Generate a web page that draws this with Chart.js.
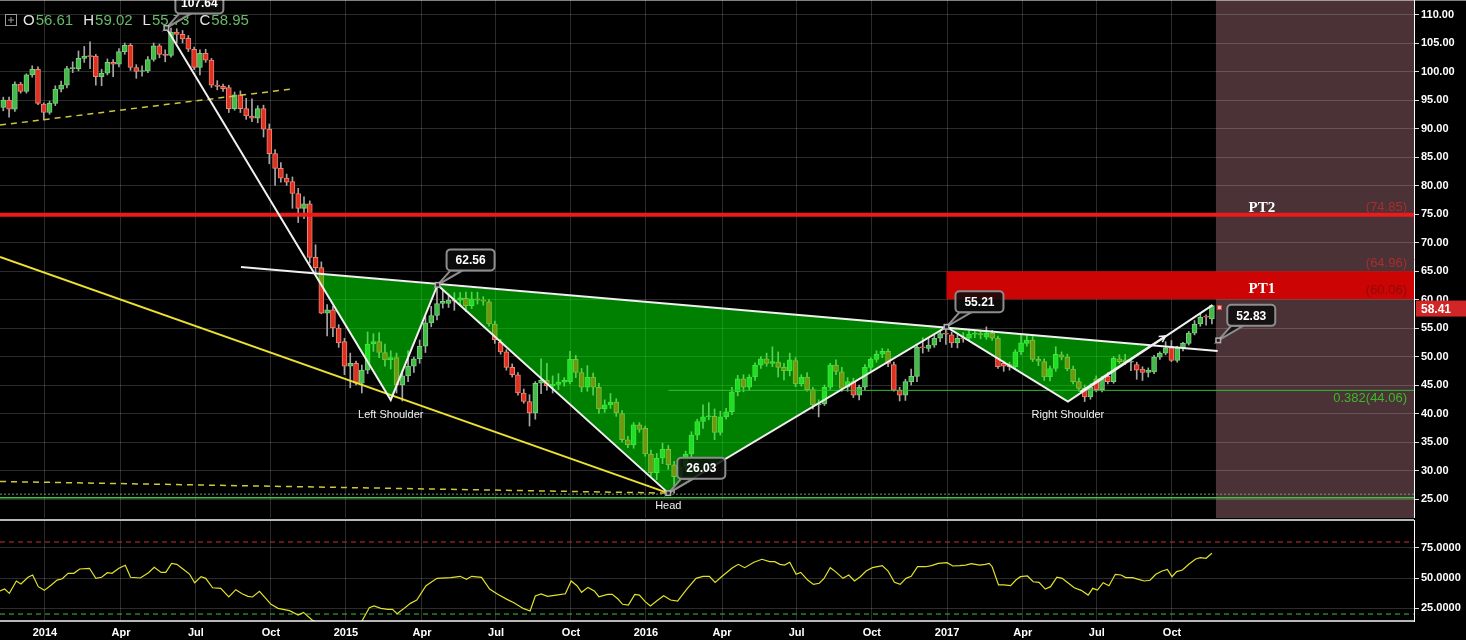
<!DOCTYPE html>
<html>
<head>
<meta charset="utf-8">
<title>Crude oil weekly - inverse head and shoulders</title>
<script src="https://cdn.jsdelivr.net/npm/chart.js@4.4.1/dist/chart.umd.min.js"></script>
<style>
  html, body { margin: 0; padding: 0; background: #000; overflow: hidden; }
  #priceChart { position: absolute; left: 0; top: 0; }
  #rsiChart { position: absolute; left: 0; top: 518px; }
</style>
</head>
<body>
<canvas id="priceChart" width="1466" height="520"></canvas>
<canvas id="rsiChart" width="1466" height="122"></canvas>
<script>
// weekly candles, first one is mid Nov 2013, last one Nov 2017
const opens = [
  93.7, 95.0, 93.4, 97.8, 96.5, 99.4, 100.4, 94.3, 92.8, 94.4,
  96.9, 97.6, 100.5, 100.5, 102.3, 102.7, 102.7, 99.1, 99.7, 101.6,
  101.3, 103.5, 104.6, 100.7, 100.0, 100.1, 102.1, 104.5, 103.0, 102.8,
  106.9, 106.5, 105.8, 103.9, 100.7, 103.2, 102.0, 97.6, 97.4, 97.2,
  93.5, 95.9, 93.5, 92.2, 91.8, 93.5, 89.9, 85.6, 83.0, 81.3,
  80.7, 78.6, 76.0, 76.8, 67.4, 65.6, 57.6, 58.2, 55.0, 52.6,
  48.3, 48.8, 45.3, 47.6, 52.2, 52.6, 50.7, 49.4, 49.8, 45.0,
  46.6, 48.3, 49.6, 51.8, 55.9, 57.2, 59.3, 59.3, 59.9, 59.9,
  60.2, 58.9, 60.1, 59.9, 59.6, 55.7, 52.5, 50.8, 48.1, 46.8,
  43.6, 42.1, 40.1, 45.3, 45.8, 44.9, 45.1, 45.5, 45.6, 49.5,
  47.2, 44.6, 46.4, 44.6, 40.8, 41.5, 42.0, 40.0, 35.4, 34.5,
  38.0, 37.4, 32.9, 29.6, 32.2, 33.7, 31.0, 28.9, 30.6, 32.9,
  36.2, 38.6, 39.4, 39.5, 36.7, 39.4, 40.3, 43.8, 46.1, 44.6,
  46.4, 48.5, 49.6, 48.8, 49.0, 48.1, 47.5, 49.3, 45.2, 46.4,
  44.2, 41.5, 41.7, 44.6, 48.5, 47.3, 44.6, 45.6, 43.2, 44.6,
  48.1, 49.5, 50.4, 50.9, 48.6, 44.1, 43.2, 45.6, 46.5, 51.7,
  51.4, 52.0, 53.2, 54.0, 53.8, 52.4, 53.2, 53.2, 53.9, 54.0,
  53.4, 54.1, 53.2, 48.8, 48.6, 48.2, 50.8, 52.3, 52.9, 49.5,
  49.1, 46.4, 47.9, 50.3, 49.9, 47.8, 45.6, 44.4, 42.9, 46.1,
  44.2, 46.5, 45.6, 49.6, 49.4, 49.0, 48.6, 47.8, 47.2, 47.3,
  49.9, 50.6, 51.5, 49.3, 51.5, 52.3, 54.1, 55.7, 57.0, 56.61
];
const highs = [
  95.5, 95.5, 98.2, 98.1, 99.6, 101.0, 100.8, 94.5, 94.8, 97.5,
  98.3, 100.9, 101.7, 103.6, 104.4, 105.2, 103.0, 100.4, 102.2, 102.1,
  104.0, 105.0, 104.9, 101.2, 101.0, 102.6, 105.0, 104.8, 103.8, 107.6,
  107.5, 107.2, 106.3, 104.3, 103.8, 103.9, 102.3, 98.4, 97.8, 97.6,
  96.4, 96.6, 95.3, 95.2, 94.0, 94.1, 90.8, 86.3, 84.0, 82.0,
  81.5, 79.5, 78.0, 77.3, 69.6, 66.6, 59.1, 58.8, 55.6, 53.2,
  50.6, 49.2, 48.5, 54.3, 54.0, 54.2, 52.2, 51.0, 50.6, 47.5,
  51.0, 49.9, 52.9, 57.0, 58.8, 62.56, 61.7, 61.0, 61.2, 61.2,
  61.3, 61.3, 61.3, 60.5, 60.0, 56.2, 53.0, 51.2, 48.7, 47.2,
  44.3, 43.3, 45.6, 49.6, 48.8, 46.6, 47.0, 46.3, 50.9, 50.2,
  47.9, 48.4, 47.1, 45.3, 42.4, 43.5, 42.6, 40.5, 36.0, 38.4,
  38.4, 37.8, 33.6, 33.0, 34.8, 34.4, 31.6, 31.9, 33.4, 36.8,
  39.0, 41.5, 41.9, 40.8, 40.4, 40.9, 44.6, 46.7, 46.8, 46.8,
  48.9, 50.0, 50.6, 51.7, 50.8, 48.8, 50.6, 49.8, 46.8, 47.2,
  44.6, 42.4, 45.0, 48.8, 49.4, 48.1, 46.3, 46.2, 45.0, 48.6,
  49.8, 51.0, 51.4, 51.3, 49.0, 44.6, 46.0, 47.8, 52.2, 53.3,
  53.2, 53.8, 54.5, 55.21, 54.3, 53.8, 54.2, 54.6, 54.5, 54.4,
  55.2, 54.6, 53.6, 49.2, 49.0, 51.2, 53.8, 53.7, 53.5, 50.0,
  49.6, 48.3, 51.7, 50.8, 50.4, 48.3, 46.2, 45.0, 45.2, 46.6,
  46.5, 47.2, 50.0, 50.3, 50.4, 49.6, 49.0, 48.2, 48.0, 50.2,
  50.8, 52.6, 52.8, 51.8, 52.5, 54.4, 56.3, 57.5, 57.3, 59.02
];
const lows = [
  93.1, 92.0, 93.0, 96.2, 96.2, 99.0, 94.2, 91.5, 92.5, 94.0,
  96.4, 97.1, 99.8, 100.1, 101.6, 100.5, 97.6, 97.5, 99.4, 99.1,
  100.8, 103.0, 100.2, 98.8, 99.2, 99.8, 101.8, 102.4, 101.7, 102.5,
  105.0, 105.0, 103.5, 100.3, 99.4, 101.6, 97.2, 96.8, 96.5, 92.8,
  93.2, 92.8, 91.6, 91.2, 91.0, 88.5, 83.8, 80.0, 80.6, 80.0,
  76.0, 73.5, 74.2, 66.4, 64.5, 57.5, 53.6, 53.5, 51.6, 46.8,
  44.5, 45.0, 43.6, 47.0, 50.9, 49.8, 48.3, 47.8, 43.6, 42.2,
  45.6, 47.2, 48.8, 50.7, 55.2, 56.4, 58.5, 58.6, 58.1, 58.9,
  57.9, 58.4, 59.2, 59.0, 55.3, 52.3, 50.4, 47.6, 46.4, 43.2,
  41.8, 37.8, 39.0, 43.5, 44.1, 43.6, 44.2, 44.8, 45.2, 46.3,
  43.8, 43.9, 43.2, 40.0, 40.2, 40.9, 39.5, 35.0, 34.0, 33.9,
  36.7, 32.5, 29.0, 28.4, 31.2, 30.2, 26.03, 28.0, 30.1, 32.4,
  35.4, 37.4, 38.9, 35.4, 36.2, 39.0, 39.8, 43.1, 43.8, 44.1,
  45.8, 47.9, 48.3, 48.2, 46.4, 45.9, 46.6, 44.7, 44.8, 43.9,
  40.8, 39.4, 41.4, 44.2, 46.8, 43.9, 43.9, 42.8, 42.4, 44.2,
  47.5, 49.0, 49.8, 48.2, 43.9, 42.2, 42.3, 45.0, 45.6, 50.6,
  50.9, 51.6, 52.6, 52.1, 51.6, 51.5, 52.5, 52.8, 53.3, 53.1,
  53.0, 52.8, 47.9, 47.4, 47.6, 47.8, 50.3, 51.8, 49.1, 48.4,
  45.8, 45.7, 47.4, 49.4, 47.5, 45.2, 43.9, 42.1, 42.5, 43.8,
  43.8, 45.2, 45.3, 48.8, 48.6, 47.5, 46.0, 45.8, 46.4, 47.0,
  49.5, 50.3, 49.1, 49.0, 51.0, 52.0, 53.8, 55.3, 55.5, 55.73
];
const closes = [
  95.0, 93.4, 97.8, 96.5, 99.4, 100.4, 94.4, 92.8, 94.4, 96.9,
  97.6, 100.5, 100.7, 102.3, 102.7, 102.6, 99.1, 99.7, 101.6, 101.3,
  103.5, 104.6, 100.7, 100.0, 100.1, 102.1, 104.5, 103.0, 102.8, 106.9,
  106.5, 105.7, 103.9, 100.7, 103.2, 102.0, 97.6, 97.4, 97.0, 93.5,
  95.9, 93.5, 92.2, 91.8, 93.5, 89.9, 85.6, 83.0, 81.3, 80.6,
  78.6, 76.0, 76.8, 67.4, 65.6, 57.6, 58.2, 55.0, 52.4, 48.3,
  48.8, 45.3, 47.6, 52.2, 52.6, 50.7, 49.4, 49.8, 45.0, 46.6,
  48.3, 49.6, 51.8, 55.9, 57.2, 59.3, 59.7, 59.9, 59.7, 60.3,
  58.9, 60.1, 59.9, 59.7, 55.7, 52.9, 50.8, 48.1, 46.8, 43.6,
  42.1, 40.1, 45.3, 45.8, 44.9, 45.1, 45.5, 45.8, 49.5, 47.2,
  44.6, 46.4, 44.6, 40.8, 41.5, 42.0, 40.1, 35.4, 34.5, 38.0,
  37.2, 32.9, 29.6, 32.2, 33.7, 31.0, 28.9, 30.6, 32.9, 36.2,
  38.6, 39.4, 39.6, 36.7, 39.4, 40.3, 43.8, 46.1, 44.6, 46.4,
  48.5, 49.6, 48.8, 49.1, 48.1, 47.5, 49.4, 45.2, 46.4, 44.2,
  41.5, 41.7, 44.6, 48.5, 47.4, 44.4, 45.6, 43.2, 44.6, 48.1,
  49.5, 50.4, 50.9, 48.8, 44.1, 43.2, 45.6, 46.5, 51.6, 51.5,
  52.0, 53.2, 54.0, 53.9, 52.4, 53.2, 53.1, 53.9, 54.0, 53.8,
  54.1, 53.2, 48.2, 48.3, 48.2, 50.8, 52.4, 52.9, 49.5, 49.2,
  46.4, 47.9, 50.4, 49.9, 47.8, 45.6, 44.4, 42.9, 44.7, 44.2,
  46.1, 45.6, 49.7, 49.1, 49.0, 49.1, 47.6, 47.2, 47.6, 49.9,
  50.6, 51.5, 49.3, 51.5, 52.3, 54.1, 55.7, 56.9, 56.9, 58.95
];
const weeks = opens.map((o, i) => i);

// weekly RSI, read at these candle positions (dips under the panel in Dec 2014)
const rsiWeek = [
  -0.57, 0.24, 1.04, 2.26, 3.06, 4.27, 5.08, 6.05, 7.1, 8.3,
  9.3, 10.2, 11.2, 12.2, 13.2, 14.9, 16.0, 17.0, 18.0, 18.8,
  20.0, 21.1, 22.0, 23.7, 25.1, 26.1, 27.3, 28.1, 29.1, 30.0,
  30.9, 32.2, 33.1, 34.2, 35.0, 36.2, 37.6, 39.0, 40.2, 41.3,
  42.3, 43.1, 44.3, 46.3, 47.5, 49.5, 51.0, 51.9, 53.4, 55.0,
  57.5, 60.0, 62.0, 63.3, 64.1, 65.3, 66.5, 67.3, 68.1, 69.1,
  70.4, 71.5, 73.1, 75.0, 77.4, 79.0, 80.1, 81.0, 82.7, 84.1,
  85.5, 87.1, 88.3, 89.9, 91.1, 92.0, 93.0, 94.1, 95.6, 97.2,
  98.2, 99.2, 100.0, 101.1, 102.2, 103.0, 104.5, 105.3, 106.3, 107.1,
  108.1, 109.2, 110.0, 111.0, 111.9, 113.2, 114.2, 115.4, 116.6, 118.2,
  119.8, 121.0, 122.1, 123.1, 124.3, 126.1, 127.1, 128.2, 129.8, 131.2,
  132.5, 133.4, 134.3, 135.1, 136.0, 137.1, 137.9, 139.1, 140.1, 141.1,
  141.9, 143.0, 143.9, 145.2, 146.2, 147.2, 148.2, 149.2, 150.3, 152.0,
  153.0, 154.1, 155.1, 156.1, 157.0, 158.1, 159.5, 160.5, 161.7, 163.2,
  164.2, 165.4, 166.4, 167.4, 168.8, 169.8, 170.5, 171.0, 172.1, 173.0,
  174.2, 175.1, 175.9, 177.1, 178.1, 179.1, 180.2, 181.1, 182.2, 183.1,
  184.2, 185.2, 186.4, 187.6, 188.4, 189.2, 190.2, 191.2, 192.3, 193.3,
  194.1, 195.3, 196.3, 197.3, 198.3, 199.3, 200.4, 201.3, 202.1, 202.9,
  203.9, 205.0, 206.2, 207.0, 208.0, 209.0
];
const rsiValue = [
  39.2, 40.8, 37.2, 47.5, 45.0, 50.6, 52.5, 42.8, 39.7, 44.2,
  48.3, 49.4, 53.9, 53.9, 57.5, 58.1, 49.7, 50.6, 54.4, 53.9,
  58.1, 60.6, 50.6, 50.0, 54.4, 58.9, 54.7, 54.7, 62.2, 61.4,
  58.1, 53.3, 46.1, 51.1, 49.7, 41.9, 41.4, 34.2, 40.3, 36.9,
  34.7, 34.2, 38.9, 28.1, 24.7, 22.8, 19.2, 21.4, 15.0, 11.5,
  9.0, 10.5, 14.0, 25.3, 26.7, 24.7, 23.9, 23.9, 20.3, 23.9,
  28.9, 31.7, 43.6, 49.7, 50.3, 51.4, 48.9, 51.4, 50.6, 40.8,
  36.4, 32.2, 29.4, 24.7, 22.5, 35.0, 36.7, 34.7, 35.8, 36.9,
  47.5, 43.6, 38.1, 42.2, 39.2, 34.4, 36.4, 36.4, 32.5, 28.1,
  27.5, 36.4, 35.8, 30.3, 26.7, 31.7, 35.3, 31.7, 30.8, 40.8,
  49.7, 51.4, 51.4, 46.4, 51.4, 58.6, 61.4, 58.6, 63.1, 65.6,
  63.6, 63.6, 61.4, 60.8, 63.1, 53.1, 54.7, 48.3, 44.7, 45.6,
  49.4, 58.6, 55.3, 49.7, 52.5, 47.5, 51.1, 55.8, 58.6, 60.3,
  55.8, 46.4, 44.7, 49.7, 51.4, 59.4, 59.4, 60.3, 62.2, 62.8,
  60.0, 60.3, 60.8, 61.9, 60.8, 61.4, 62.2, 59.4, 44.2, 44.2,
  43.6, 48.3, 51.1, 51.7, 46.9, 46.4, 40.8, 42.8, 50.6, 49.7,
  45.6, 41.9, 39.7, 35.8, 41.4, 40.0, 46.1, 43.6, 53.1, 52.5,
  50.3, 50.3, 48.9, 47.5, 48.1, 53.1, 55.8, 57.2, 51.1, 55.3,
  56.7, 61.4, 65.8, 66.9, 66.4, 70.6
];

// axis ticks, dates given in candle units
const dateTickPos = [7.21, 20.35, 33.31, 46.29, 59.26, 72.4, 85.2, 98.17, 111.14, 124.29, 137.2, 150.2, 163.2, 176.3, 189.1, 202.1];
const dateTickLabels = ["2014", "Apr", "Jul", "Oct", "2015", "Apr", "Jul", "Oct", "2016", "Apr", "Jul", "Oct", "2017", "Apr", "Jul", "Oct"];
const priceTicks = [25, 30, 35, 40, 45, 50, 55, 60, 65, 70, 75, 80, 85, 90, 95, 100, 105, 110];
const rsiTicks = [25, 50, 75];

// hand drawn pattern: 107 top, left shoulder, 62 top, head, 55 top, right shoulder, end of rally
const pivotWeek = [28.2, 67.0, 75.1, 115.0, 163.1, 184.1, 209.1];
const pivotPrice = [107.64, 42.37, 62.56, 26.03, 55.21, 42.1, 59.0];
const neckWeek = [41.1, 210.0];
const neckPrice = [65.7, 50.96];
const breakWeek = [186.2, 201.0];
const breakPrice = [43.77, 53.6];
const supportWeek = [-0.57, 115.0];
const supportPrice = [67.46, 26.03];
const lowDashPrice = [28.07, 26.03];
const topDashWeek = [-0.57, 49.6];
const topDashPrice = [90.6, 96.9];

// levels
const pt2 = 74.85;
const pt1 = [60.06, 64.96];
const fibLevel = 44.06;
const baseLine = 25.2;
const baseDotted = 25.85;
const neckTargetWeek = 210.1;
const neckTarget = 52.83;
const lastPrice = 58.41;
const futureStart = 209.7;
const rsiHigh = 80;
const rsiLow = 20;

// axis ranges
const xMin = -0.57, xMax = 243.95;
const yMin = 21.667, yMax = 112.544;
const rsiMin = 14.2, rsiMax = 98.3;

Chart.defaults.font.family = '"Liberation Sans", Arial, sans-serif';
Chart.defaults.color = '#fff';

const gridCol = 'rgba(255,255,255,0.17)';
const up = i => closes[i] >= opens[i];

function setTicks(values) {
  return scale => { scale.ticks = values.map(v => ({ value: v })); };
}
function fixWidth(w) {
  return scale => { scale.width = w; scale.paddingTop = 0; scale.paddingBottom = 0; };
}
function fixHeight(h) {
  return scale => { scale.height = h; scale.paddingLeft = 0; scale.paddingRight = 0; };
}

function drawLine(ctx, pts, color, width, dash) {
  ctx.beginPath();
  ctx.strokeStyle = color;
  ctx.lineWidth = width;
  ctx.setLineDash(dash || []);
  pts.forEach((p, k) => k ? ctx.lineTo(p[0], p[1]) : ctx.moveTo(p[0], p[1]));
  ctx.stroke();
  ctx.setLineDash([]);
}

function cross(p1, p2, q1, q2) {
  const d = (p2[0] - p1[0]) * (q2[1] - q1[1]) - (p2[1] - p1[1]) * (q2[0] - q1[0]);
  const t = ((q1[0] - p1[0]) * (q2[1] - q1[1]) - (q1[1] - p1[1]) * (q2[0] - q1[0])) / d;
  return [p1[0] + t * (p2[0] - p1[0]), p1[1] + t * (p2[1] - p1[1])];
}

function callout(ctx, ax, ay, text) {
  const w = 48, h = 21, bx = ax + 9, by = ay - 35.5;
  ctx.fillStyle = 'rgba(12,12,12,0.85)';
  ctx.strokeStyle = '#8d8d8d';
  ctx.lineWidth = 2;
  // pointer
  ctx.beginPath();
  ctx.moveTo(ax, ay);
  ctx.lineTo(bx + 4, by + h);
  ctx.lineTo(bx + 16, by + h);
  ctx.closePath();
  ctx.fill();
  ctx.stroke();
  // box
  ctx.beginPath();
  ctx.roundRect(bx, by, w, h, 4);
  ctx.fill();
  ctx.stroke();
  ctx.fillStyle = '#fff';
  ctx.font = 'bold 12px "Liberation Sans"';
  ctx.textAlign = 'center';
  ctx.textBaseline = 'middle';
  ctx.fillText(text, bx + w / 2, by + h / 2 + 1);
  // anchor
  ctx.fillStyle = '#b0b0b0';
  ctx.fillRect(ax - 3, ay - 3, 6, 6);
  ctx.fillStyle = '#222';
  ctx.fillRect(ax - 1.5, ay - 1.5, 3, 3);
}

function drawLegend(ctx) {
  ctx.strokeStyle = '#9a9a9a';
  ctx.lineWidth = 1;
  ctx.strokeRect(5.5, 14.5, 11, 11);
  ctx.beginPath();
  ctx.moveTo(8, 20); ctx.lineTo(14, 20);
  ctx.moveTo(11, 17); ctx.lineTo(11, 23);
  ctx.stroke();
  ctx.font = '15px "Liberation Sans"';
  ctx.textAlign = 'left';
  ctx.textBaseline = 'middle';
  const last = opens.length - 1;
  let lx = 23;
  [['O', opens[last]], ['H', highs[last]], ['L', lows[last]], ['C', closes[last]]].forEach(([k, v]) => {
    ctx.fillStyle = '#e6e6e6';
    ctx.fillText(k, lx, 21);
    lx += ctx.measureText(k).width + 1;
    const s = v.toFixed(2);
    ctx.fillStyle = '#66bb66';
    ctx.fillText(s, lx, 21);
    lx += ctx.measureText(s).width + 10;
  });
}

const priceDecor = {
  id: 'priceDecor',
  beforeDraw(chart) {
    const { ctx, chartArea: a, scales: { x } } = chart;
    ctx.save();
    ctx.fillStyle = '#000';
    ctx.fillRect(0, 0, chart.width, chart.height);
    const sx = x.getPixelForValue(futureStart);
    ctx.fillStyle = '#4a3236';
    ctx.fillRect(sx, a.top, a.right - sx, a.bottom - a.top);
    ctx.restore();
  },
  afterDatasetsDraw(chart) {
    const { ctx, chartArea: a, scales: { x, y } } = chart;
    const pt = (w, p) => [x.getPixelForValue(w), y.getPixelForValue(p)];
    const piv = pivotWeek.map((w, k) => pt(w, pivotPrice[k]));
    const [top107, ls, top62, head, top55, rs, rally] = piv;
    const n0 = pt(neckWeek[0], neckPrice[0]);
    const n1 = pt(neckWeek[1], neckPrice[1]);
    const sx = x.getPixelForValue(futureStart);

    ctx.save();
    ctx.beginPath();
    ctx.rect(a.left, a.top, a.right - a.left, a.bottom - a.top);
    ctx.clip();

    // PT1 zone
    const zx = top55[0];
    const zt = y.getPixelForValue(pt1[1]), zb = y.getPixelForValue(pt1[0]);
    ctx.fillStyle = 'rgb(205,4,4)';
    ctx.fillRect(zx, zt, a.right - zx, zb - zt);

    // green pattern fill
    ctx.fillStyle = 'rgba(0,255,0,0.5)';
    [[cross(top107, ls, n0, n1), ls, top62], [top62, head, top55], [top55, rs, cross(rs, rally, n0, n1)]].forEach(poly => {
      ctx.beginPath();
      poly.forEach((p, k) => k ? ctx.lineTo(p[0], p[1]) : ctx.moveTo(p[0], p[1]));
      ctx.closePath();
      ctx.fill();
    });

    // levels
    const yb = y.getPixelForValue(baseLine);
    drawLine(ctx, [[a.left, yb], [a.right, yb]], 'rgb(60,200,60)', 1.5);
    const yd = y.getPixelForValue(baseDotted);
    drawLine(ctx, [[a.left, yd], [a.right, yd]], 'rgba(120,170,120,0.9)', 1, [2, 2]);
    const yf = y.getPixelForValue(fibLevel);
    drawLine(ctx, [[head[0], yf], [a.right, yf]], 'rgb(50,190,50)', 1);
    const y2 = y.getPixelForValue(pt2);
    drawLine(ctx, [[a.left, y2], [a.right, y2]], 'rgb(236,26,26)', 4);

    // yellow lines
    drawLine(ctx, [pt(supportWeek[0], supportPrice[0]), head], '#ece030', 2);
    drawLine(ctx, [pt(supportWeek[0], lowDashPrice[0]), pt(supportWeek[1], lowDashPrice[1])], '#cfc63c', 1.5, [6, 5]);
    drawLine(ctx, [pt(topDashWeek[0], topDashPrice[0]), pt(topDashWeek[1], topDashPrice[1])], '#cfc63c', 1.5, [6, 5]);

    // white pattern lines
    drawLine(ctx, [n0, n1], '#f0f0f0', 2);
    drawLine(ctx, piv, '#f0f0f0', 2);
    const b0 = pt(breakWeek[0], breakPrice[0]), b1 = pt(breakWeek[1], breakPrice[1]);
    drawLine(ctx, [b0, b1], '#f0f0f0', 2);
    const ang = Math.atan2(b1[1] - b0[1], b1[0] - b0[0]);
    drawLine(ctx, [
      [b1[0] - 7 * Math.cos(ang - 0.5), b1[1] - 7 * Math.sin(ang - 0.5)],
      b1,
      [b1[0] - 7 * Math.cos(ang + 0.5), b1[1] - 7 * Math.sin(ang + 0.5)]
    ], '#f0f0f0', 1.5);
    ctx.restore();

    ctx.save();
    drawLegend(ctx);

    // price callouts
    [0, 2, 3, 4].forEach(k => callout(ctx, piv[k][0], piv[k][1], pivotPrice[k].toFixed(2)));
    const nt = pt(neckTargetWeek, neckTarget);
    callout(ctx, nt[0], nt[1], neckTarget.toFixed(2));

    // last tick marker
    const lp = pt(futureStart + 0.6, lastPrice);
    ctx.fillStyle = 'rgb(255,190,180)';
    ctx.strokeStyle = 'rgb(230,70,60)';
    ctx.lineWidth = 1;
    ctx.fillRect(lp[0] - 2, lp[1] - 3, 4, 4);
    ctx.strokeRect(lp[0] - 2, lp[1] - 3, 4, 4);

    // pattern names
    ctx.fillStyle = '#f0f0f0';
    ctx.font = '11px "Liberation Sans"';
    ctx.textAlign = 'center';
    ctx.textBaseline = 'middle';
    ctx.fillText('Left Shoulder', ls[0], ls[1] + 15);
    ctx.fillText('Head', head[0], head[1] + 13);
    ctx.fillText('Right Shoulder', rs[0], rs[1] + 13);

    // target labels
    ctx.font = 'bold 15px "Liberation Serif"';
    ctx.fillStyle = '#fff';
    ctx.fillText('PT2', sx + 46, y2 - 7);
    ctx.fillText('PT1', sx + 46, (zt + zb) / 2 + 4);
    ctx.font = '13px "Liberation Sans"';
    ctx.textAlign = 'right';
    ctx.fillStyle = 'rgb(170,45,45)';
    ctx.fillText('(' + pt2.toFixed(2) + ')', a.right - 7, y2 - 7);
    ctx.fillText('(' + pt1[1].toFixed(2) + ')', a.right - 7, zt - 8);
    ctx.fillStyle = 'rgb(140,12,12)';
    ctx.fillText('(' + pt1[0].toFixed(2) + ')', a.right - 7, zb - 9);
    ctx.fillStyle = 'rgb(60,185,40)';
    ctx.fillText('0.382(' + fibLevel.toFixed(2) + ')', a.right - 7, yf + 8);
    ctx.restore();
  },
  afterDraw(chart) {
    const { ctx, chartArea: a, scales: { y } } = chart;
    ctx.save();
    // top border
    ctx.fillStyle = 'rgba(255,255,255,0.5)';
    ctx.fillRect(0, 0, chart.width, 1);
    // last price tag on the axis
    const ly = y.getPixelForValue(lastPrice);
    ctx.fillStyle = 'rgb(208,38,38)';
    ctx.fillRect(a.right + 2, ly - 8, chart.width - a.right - 2, 16);
    ctx.fillStyle = '#fff';
    ctx.font = 'bold 12px "Liberation Sans"';
    ctx.textAlign = 'left';
    ctx.textBaseline = 'middle';
    ctx.fillText(lastPrice.toFixed(2), a.right + 7, ly + 1);
    ctx.restore();
  }
};

const rsiDecor = {
  id: 'rsiDecor',
  beforeDraw(chart) {
    const { ctx } = chart;
    ctx.save();
    ctx.fillStyle = '#000';
    ctx.fillRect(0, 0, chart.width, chart.height);
    ctx.restore();
  },
  beforeDatasetsDraw(chart) {
    const { ctx, chartArea: a, scales: { y } } = chart;
    ctx.save();
    const yh = y.getPixelForValue(rsiHigh), yl = y.getPixelForValue(rsiLow);
    drawLine(ctx, [[a.left, yh], [a.right, yh]], 'rgb(200,48,48)', 1, [5, 4]);
    drawLine(ctx, [[a.left, yl], [a.right, yl]], 'rgb(60,190,60)', 1, [5, 4]);
    ctx.restore();
  },
  afterDraw(chart) {
    const { ctx, chartArea: a } = chart;
    ctx.save();
    drawLine(ctx, [[0, a.top], [a.right, a.top]], '#f4f4f4', 1.5);
    drawLine(ctx, [[0, a.bottom], [a.right, a.bottom]], '#f4f4f4', 1.5);
    ctx.restore();
  }
};

new Chart(document.getElementById('priceChart'), {
  type: 'bar',
  data: {
    datasets: [
      {
        label: 'wick',
        data: weeks.map(i => ({ x: i, y: [lows[i], highs[i]] })),
        backgroundColor: '#a6a6a6',
        barThickness: 1,
        grouped: false,
        order: 2
      },
      {
        label: 'body',
        data: weeks.map(i => ({ x: i, y: [opens[i], closes[i]] })),
        backgroundColor: c => up(c.dataIndex) ? '#45b94a' : '#de3020',
        borderColor: c => up(c.dataIndex) ? '#74d477' : '#f08470',
        borderWidth: 1,
        borderSkipped: false,
        barThickness: 5,
        minBarLength: 1,
        grouped: false,
        order: 1
      }
    ]
  },
  options: {
    responsive: false,
    animation: false,
    events: [],
    layout: { padding: 0 },
    plugins: { legend: { display: false }, tooltip: { enabled: false } },
    scales: {
      x: {
        type: 'linear', min: xMin, max: xMax, offset: false,
        grid: { color: gridCol, offset: false, drawTicks: false },
        border: { display: false },
        ticks: { display: false },
        afterBuildTicks: setTicks(dateTickPos),
        afterFit: fixHeight(2)
      },
      y: {
        position: 'right', min: yMin, max: yMax,
        grid: { color: gridCol, tickColor: '#ddd', tickLength: 5 },
        border: { color: '#fff' },
        ticks: { color: '#fff', font: { size: 11, weight: 'bold' }, padding: 2, callback: v => v.toFixed(2) },
        afterBuildTicks: setTicks(priceTicks),
        afterFit: fixWidth(52)
      }
    }
  },
  plugins: [priceDecor]
});

new Chart(document.getElementById('rsiChart'), {
  type: 'line',
  data: {
    datasets: [{
      label: 'RSI',
      data: rsiWeek.map((w, k) => ({ x: w, y: rsiValue[k] })),
      borderColor: '#e2e22a',
      borderWidth: 1.2,
      pointRadius: 0,
      tension: 0
    }]
  },
  options: {
    responsive: false,
    animation: false,
    events: [],
    layout: { padding: { top: 2 } },
    plugins: { legend: { display: false }, tooltip: { enabled: false } },
    scales: {
      x: {
        type: 'linear', min: xMin, max: xMax, offset: false,
        grid: { color: gridCol, drawTicks: false },
        border: { display: false },
        ticks: {
          color: '#fff', font: { size: 11, weight: 'bold' }, padding: 5,
          autoSkip: false, maxRotation: 0,
          callback: (v, k) => dateTickLabels[k]
        },
        afterBuildTicks: setTicks(dateTickPos),
        afterFit: fixHeight(19)
      },
      y: {
        position: 'right', min: rsiMin, max: rsiMax,
        grid: { color: gridCol, tickColor: '#ddd', tickLength: 5 },
        border: { color: '#fff' },
        ticks: { color: '#fff', font: { size: 11, weight: 'bold' }, padding: 2, callback: v => v.toFixed(4) },
        afterBuildTicks: setTicks(rsiTicks),
        afterFit: fixWidth(52)
      }
    }
  },
  plugins: [rsiDecor]
});
</script>
</body>
</html>
